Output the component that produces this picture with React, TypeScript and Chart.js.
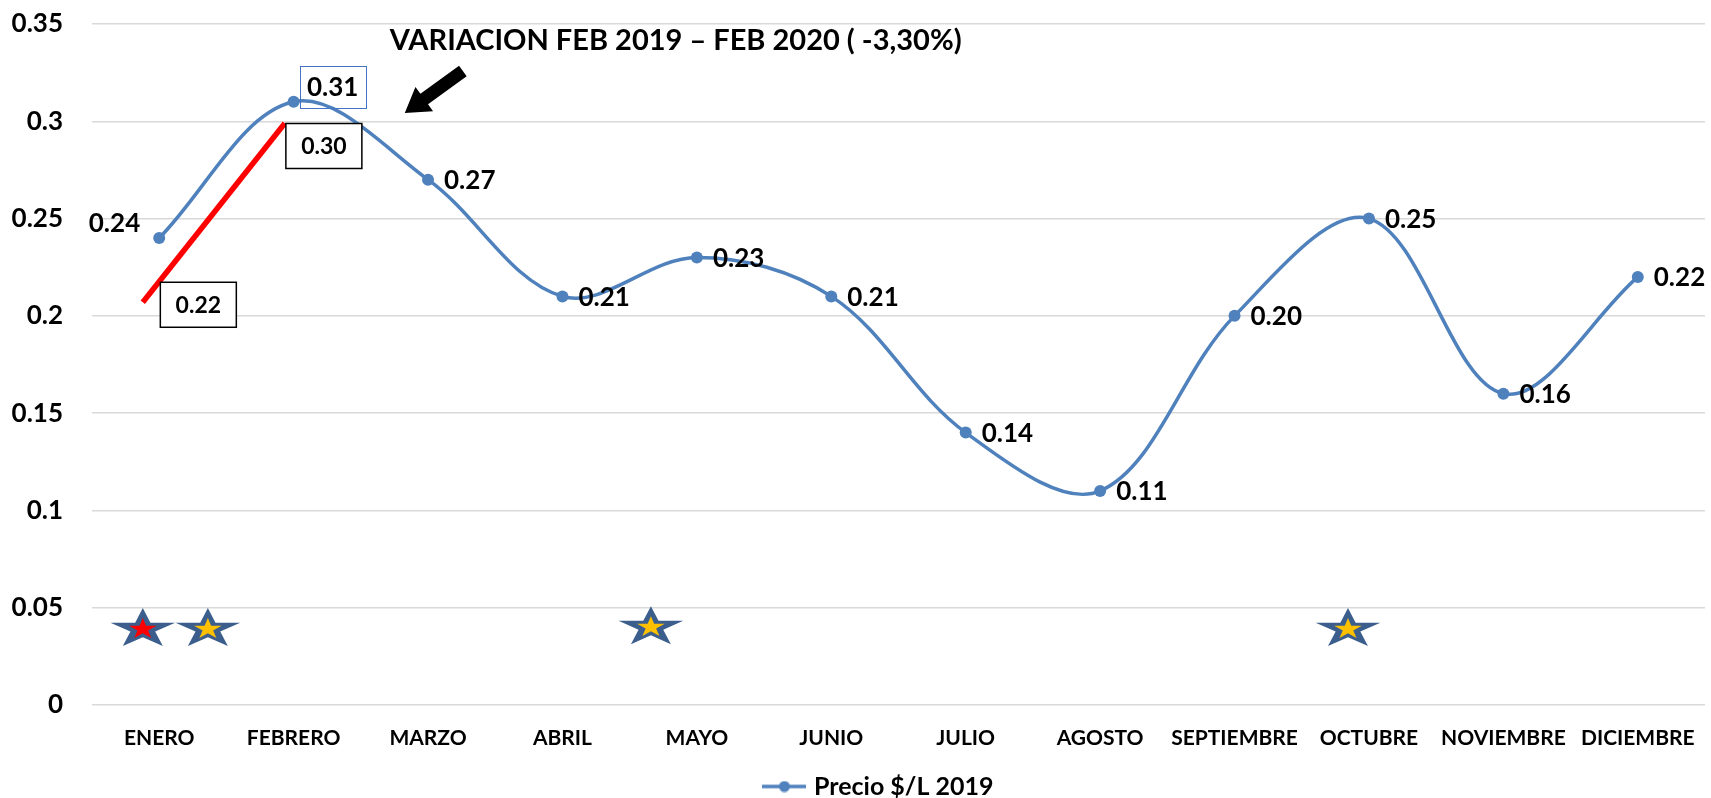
import React, { useEffect, useRef } from "react";
import { Chart, registerables } from "chart.js";

Chart.register(...registerables);

// ---------- data ----------
const months = [
  "ENERO", "FEBRERO", "MARZO", "ABRIL", "MAYO", "JUNIO",
  "JULIO", "AGOSTO", "SEPTIEMBRE", "OCTUBRE", "NOVIEMBRE", "DICIEMBRE",
];
const precio2019 = [0.24, 0.31, 0.27, 0.21, 0.23, 0.21, 0.14, 0.11, 0.2, 0.25, 0.16, 0.22];
const seriesLabel = "Precio $/L 2019";
const yMin = 0;
const yMax = 0.35;
const yStep = 0.05;
const yTickLabels = ["0", "0.05", "0.1", "0.15", "0.2", "0.25", "0.3", "0.35"];

// annotation content
const titleText = "VARIACION FEB 2019 \u2013 FEB 2020 ( -3,30%)";
const compareFromValue = 0.22; // Feb 2019
const compareToValue = 0.3; // Feb 2020

// annotation anchors (category index, value)
const titleAnchor = [1.716, 0.3413];
const redLineFrom = [-0.122, 0.207];
const redLineTo = [0.9345, 0.299];
const fromBoxAnchor = [0.291, 0.2057];
const toBoxAnchor = [1.225, 0.2873];
const arrowTail = [2.259, 0.3258];
const arrowTip = [1.827, 0.3042];
const starIndex = [-0.122, 0.362, 3.658, 8.844];
const starValue = [0.039, 0.039, 0.04, 0.039];
const starCenterColor = ["#FF0000", "#FFC000", "#FFC000", "#FFC000"];

// ---------- styles ----------
const FONT = "Lato, 'Open Sans', sans-serif";
const BLUE = "#4F81BD";
const STAR_BLUE = "#3B5E8C";
const LEGEND_SHIFT = 28;

function drawStar(ctx: CanvasRenderingContext2D, cx: number, cy: number, rx: number, ry: number, fill: string) {
  ctx.beginPath();
  for (let i = 0; i < 10; i++) {
    const r = i % 2 === 0 ? 1 : 0.382;
    const a = -Math.PI / 2 + (i * Math.PI) / 5;
    const x = cx + Math.cos(a) * rx * r;
    const y = cy + Math.sin(a) * ry * r;
    if (i === 0) ctx.moveTo(x, y);
    else ctx.lineTo(x, y);
  }
  ctx.closePath();
  ctx.fillStyle = fill;
  ctx.fill();
}

const annotationPlugin = {
  id: "excelAnnotations",
  afterLayout(chart: any) {
    if (chart.legend) {
      chart.legend.left += LEGEND_SHIFT;
      chart.legend.right += LEGEND_SHIFT;
    }
  },
  afterDatasetsDraw(chart: any) {
    const ctx: CanvasRenderingContext2D = chart.ctx;
    const xs = chart.scales.x;
    const ys = chart.scales.y;
    const px = (p: number[]) => [xs.getPixelForValue(p[0]), ys.getPixelForValue(p[1])];
    ctx.save();

    // stars
    starIndex.forEach((si, i) => {
      const cx = xs.getPixelForValue(si);
      const cy = ys.getPixelForValue(starValue[i]);
      drawStar(ctx, cx, cy, 34, 21, STAR_BLUE);
      drawStar(ctx, cx, cy, 14.5, 11, starCenterColor[i]);
    });

    // red comparison line
    const [rx1, ry1] = px(redLineFrom);
    const [rx2, ry2] = px(redLineTo);
    ctx.beginPath();
    ctx.moveTo(rx1, ry1);
    ctx.lineTo(rx2, ry2);
    ctx.strokeStyle = "#FF0000";
    ctx.lineWidth = 5.5;
    ctx.lineCap = "butt";
    ctx.stroke();

    // boxed comparison values
    const boxes: [number[], number][] = [
      [fromBoxAnchor, compareFromValue],
      [toBoxAnchor, compareToValue],
    ];
    boxes.forEach(([anchor, v]) => {
      const [cx, cy] = px(anchor);
      const w = 76, h = 45;
      ctx.fillStyle = "#FFFFFF";
      ctx.fillRect(cx - w / 2, cy - h / 2, w, h);
      ctx.strokeStyle = "#000000";
      ctx.lineWidth = 1.5;
      ctx.strokeRect(cx - w / 2, cy - h / 2, w, h);
      ctx.fillStyle = "#000000";
      ctx.font = `bold 23px ${FONT}`;
      ctx.textAlign = "center";
      ctx.textBaseline = "middle";
      ctx.fillText(v.toFixed(2), cx, cy + 1);
    });

    // data labels
    const meta = chart.getDatasetMeta(0);
    ctx.font = `bold 26px ${FONT}`;
    ctx.fillStyle = "#000000";
    ctx.textBaseline = "middle";
    meta.data.forEach((pt: any, i: number) => {
      const txt = precio2019[i].toFixed(2);
      if (i === 0) {
        ctx.textAlign = "right";
        ctx.fillText(txt, pt.x - 19, pt.y - 14);
      } else if (i === 1) {
        const cx = pt.x + 39, cy = pt.y - 15;
        ctx.textAlign = "center";
        ctx.fillText(txt, cx, cy + 1);
        ctx.strokeStyle = "#4472C4";
        ctx.lineWidth = 1;
        ctx.strokeRect(Math.round(cx - 33) + 0.5, Math.round(cy - 21) + 0.5, 66, 42);
      } else {
        ctx.textAlign = "left";
        ctx.fillText(txt, pt.x + 16, pt.y + 1);
      }
    });

    // arrow
    const [tx, ty] = px(arrowTail);
    const [hx, hy] = px(arrowTip);
    const len = Math.hypot(hx - tx, hy - ty);
    const ux = (hx - tx) / len, uy = (hy - ty) / len;
    const nx = -uy, ny = ux;
    const sw = 6.5, hw = 15, hl = 24;
    const bx = hx - ux * hl, by = hy - uy * hl;
    ctx.beginPath();
    ctx.moveTo(tx + nx * sw, ty + ny * sw);
    ctx.lineTo(bx + nx * sw, by + ny * sw);
    ctx.lineTo(bx + nx * hw, by + ny * hw);
    ctx.lineTo(hx, hy);
    ctx.lineTo(bx - nx * hw, by - ny * hw);
    ctx.lineTo(bx - nx * sw, by - ny * sw);
    ctx.lineTo(tx - nx * sw, ty - ny * sw);
    ctx.closePath();
    ctx.fillStyle = "#000000";
    ctx.fill();

    // title
    const [ttx, tty] = px(titleAnchor);
    ctx.font = `bold 29px ${FONT}`;
    ctx.textAlign = "left";
    ctx.textBaseline = "middle";
    ctx.fillStyle = "#000000";
    ctx.fillText(titleText, ttx, tty);

    ctx.restore();
  },
};

function legendMarker(): HTMLCanvasElement {
  const c = document.createElement("canvas");
  c.width = 44;
  c.height = 12;
  const g = c.getContext("2d")!;
  g.strokeStyle = BLUE;
  g.lineWidth = 3.5;
  g.beginPath();
  g.moveTo(0, 6);
  g.lineTo(44, 6);
  g.stroke();
  g.fillStyle = BLUE;
  g.beginPath();
  g.arc(22, 6, 5.5, 0, Math.PI * 2);
  g.fill();
  return c;
}

export default function App() {
  const canvasRef = useRef<HTMLCanvasElement | null>(null);

  useEffect(() => {
    let chart: Chart | null = null;
    let cancelled = false;
    const build = () => {
      if (cancelled || !canvasRef.current) return;
      const marker = legendMarker();
      chart = new Chart(canvasRef.current, {
        type: "line",
        data: {
          labels: months,
          datasets: [
            {
              label: seriesLabel,
              data: precio2019,
              borderColor: BLUE,
              backgroundColor: BLUE,
              borderWidth: 3.5,
              pointRadius: 6,
              pointBackgroundColor: BLUE,
              pointBorderWidth: 0,
              tension: 0.35,
              fill: false,
            },
          ],
        },
        options: {
          animation: false,
          responsive: false,
          devicePixelRatio: 1,
          layout: { padding: { left: 0, right: 6, top: 24, bottom: 0 } },
          scales: {
            x: {
              offset: true,
              grid: { display: false },
              border: { display: false },
              ticks: {
                color: "#000000",
                font: { family: FONT, size: 21, weight: "bold" },
                padding: 13,
                maxRotation: 0,
                autoSkip: false,
              },
              afterFit: (s: any) => {
                s.height = 59;
              },
            },
            y: {
              min: yMin,
              max: yMax,
              grid: { color: "#D9D9D9", lineWidth: 1.5, drawTicks: false },
              border: { display: false },
              ticks: {
                stepSize: yStep,
                color: "#000000",
                font: { family: FONT, size: 26, weight: "bold" },
                padding: 29,
                callback: (_v: any, i: number) => yTickLabels[i],
              },
              afterFit: (s: any) => {
                s.width = 92;
                s.paddingTop = 16;
                s.paddingBottom = 16;
              },
            },
          },
          plugins: {
            tooltip: { enabled: false },
            title: { display: false },
            legend: {
              position: "bottom",
              maxHeight: 34,
              labels: {
                usePointStyle: true,
                pointStyleWidth: 34,
                color: "#000000",
                padding: 10,
                font: { family: FONT, size: 25, weight: "bold" },
                generateLabels: () => [
                  {
                    text: seriesLabel,
                    fillStyle: BLUE,
                    strokeStyle: BLUE,
                    lineWidth: 0,
                    pointStyle: marker as any,
                    hidden: false,
                    datasetIndex: 0,
                    fontColor: "#000000",
                  },
                ],
              },
            },
          },
        },
        plugins: [annotationPlugin],
      });
    };
    const fontsReady = (document as any).fonts
      ? Promise.all([
          (document as any).fonts.load(`bold 26px Lato`),
          (document as any).fonts.load(`bold 20px Lato`),
        ]).catch(() => null)
      : Promise.resolve(null);
    fontsReady.then(build);
    return () => {
      cancelled = true;
      if (chart) chart.destroy();
    };
  }, []);

  return (
    <div style={{ position: "fixed", left: 0, top: 0, width: 1711, height: 798, background: "#FFFFFF" }}>
      <canvas ref={canvasRef} width={1711} height={798} style={{ display: "block" }} />
    </div>
  );
}
